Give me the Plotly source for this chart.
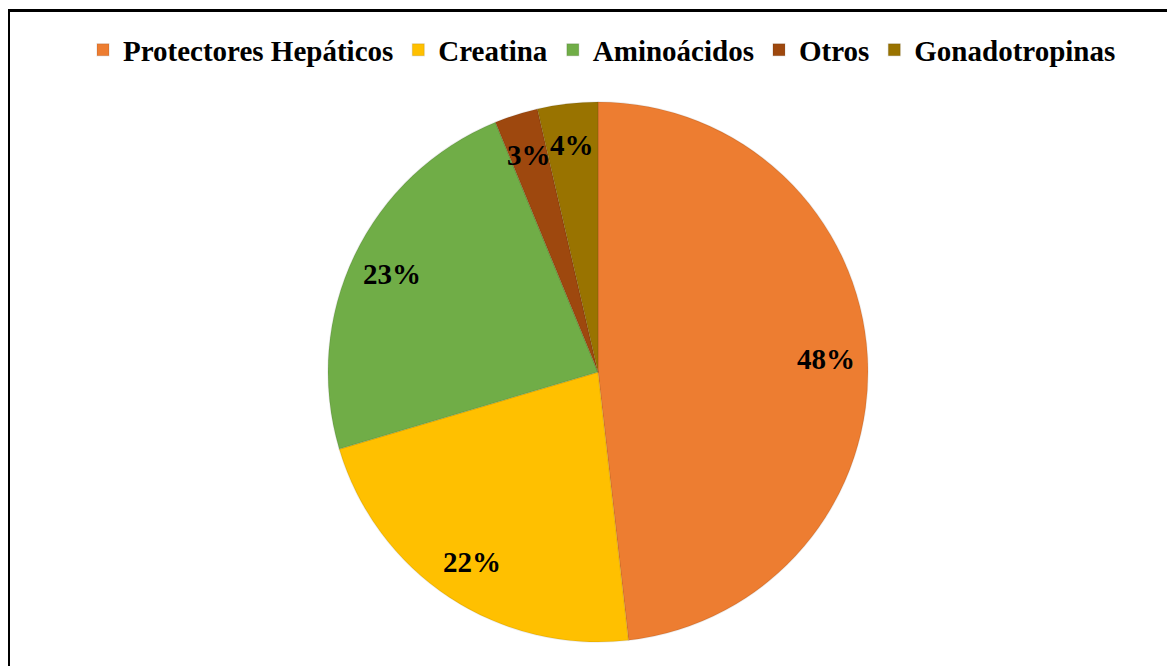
import math
import plotly.graph_objects as go

# # Data
categories = ['Protectores Hepáticos', 'Creatina', 'Aminoácidos', 'Otros', 'Gonadotropinas']
values = [48.2, 22.2, 23.4, 2.6, 3.6]
colors = ['#ED7D31', '#FFC000', '#70AD47', '#9E480E', '#997300']

W, H = 1175, 666
# the page adds an 8px body margin, so figure pixels = page pixels - 8
cx, cy, R = 590, 364, 270  # pie centre and radius in figure pixels
dom_x = [(cx - R) / W, (cx + R) / W]
dom_y = [1 - (cy + R) / H, 1 - (cy - R) / H]

fig = go.Figure()
fig.add_trace(go.Pie(
    labels=categories,
    values=values,
    sort=False,
    direction='clockwise',
    rotation=0,
    marker=dict(colors=colors, line=dict(color='rgba(0,0,0,0.08)', width=1.5)),
    textinfo='none',
    hoverinfo='label+percent',
    domain=dict(x=dom_x, y=dom_y),
))

# # Percentage labels placed at the mid angle of each slice
total = sum(values)
cum = 0
for v in values:
    mid = (cum + v / 2) / total * 2 * math.pi
    cum += v
    r = 0.845 * R
    px = cx + r * math.sin(mid)
    py = cy - r * math.cos(mid)
    fig.add_annotation(
        x=px / W, y=1 - py / H, xref='paper', yref='paper',
        xanchor='center', yanchor='middle',
        text='%d%%' % round(v / total * 100),
        showarrow=False,
        font=dict(family='Liberation Serif', size=29, color='black', weight='bold'),
    )

# # Outer frame (cut by the page on the right and bottom)
fig.add_shape(type='rect', xref='paper', yref='paper',
              x0=0.5 / W, x1=1.02, y0=-0.02, y1=1 - 2.5 / H,
              line=dict(color='black', width=3))

fig.update_layout(
    width=W, height=H,
    margin=dict(l=0, r=0, t=0, b=0),
    paper_bgcolor='white',
    plot_bgcolor='white',
    showlegend=True,
    legend=dict(
        orientation='h', x=594 / W, xanchor='center', y=1 - 42 / H, yanchor='middle',
        font=dict(family='Liberation Serif', size=29, color='black', weight='bold'),
        itemwidth=30, tracegroupgap=0,
    ),
)

fig.write_html("out.html")
